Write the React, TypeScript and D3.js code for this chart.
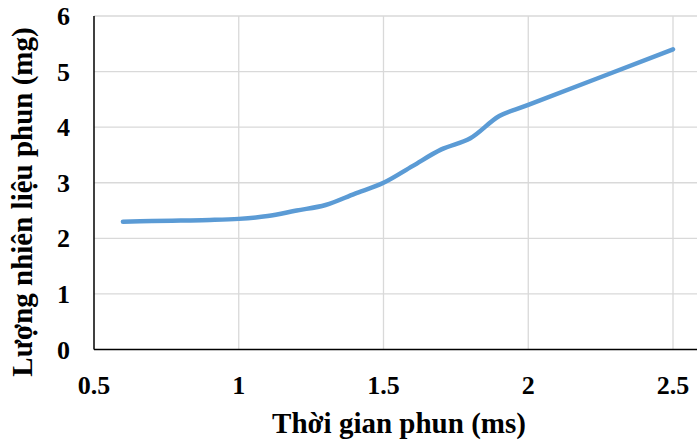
import React from "react";
import * as d3 from "d3";

const timeMs = [0.6, 0.7, 0.8, 0.9, 1.0, 1.1, 1.2, 1.3, 1.4, 1.5, 1.6, 1.7, 1.8, 1.9, 2.0, 2.5];
const fuelMg = [2.3, 2.31, 2.32, 2.33, 2.35, 2.4, 2.5, 2.6, 2.8, 3.0, 3.3, 3.6, 3.8, 4.2, 4.4, 5.4];
const xTicks = [0.5, 1, 1.5, 2, 2.5];
const yTicks = [0, 1, 2, 3, 4, 5, 6];
const xTitle = "Thời gian phun (ms)";
const yTitle = "Lượng nhiên liệu phun (mg)";

const W = 697;
const H = 441;
const left = 94;
const rightTick = 673;
const top = 16;
const bottom = 349.5;

export default function App() {
  const x = d3.scaleLinear().domain([0.5, 2.5]).range([left, rightTick]);
  const y = d3.scaleLinear().domain([0, 6]).range([bottom, top]);
  const pts = timeMs.map((t, i) => [t, fuelMg[i]] as [number, number]);
  const line = d3
    .line<[number, number]>()
    .x((d) => x(d[0]))
    .y((d) => y(d[1]))
    .curve(d3.curveCatmullRom.alpha(0.5));
  const font = "'Liberation Serif', 'Times New Roman', serif";
  return (
    <svg
      width={W}
      height={H}
      style={{ position: "absolute", left: 0, top: 0, display: "block", background: "#fff" }}
    >
      <rect x={0} y={0} width={W} height={H} fill="#fff" />
      {yTicks.map((t) =>
        t === 0 ? null : (
          <line key={"hy" + t} x1={left} x2={W} y1={y(t)} y2={y(t)} stroke="#d9d9d9" strokeWidth={1.3} />
        )
      )}
      {xTicks.map((t) =>
        t === 0.5 ? null : (
          <line key={"vx" + t} x1={x(t)} x2={x(t)} y1={top} y2={bottom} stroke="#d9d9d9" strokeWidth={1.3} />
        )
      )}
      <line x1={left} x2={left} y1={top} y2={bottom} stroke="#000" strokeWidth={1.5} />
      <line x1={left} x2={W} y1={bottom} y2={bottom} stroke="#000" strokeWidth={1.5} />
      <path
        d={line(pts) || ""}
        fill="none"
        stroke="#5b9bd5"
        strokeWidth={4.5}
        strokeLinecap="round"
        strokeLinejoin="round"
      />
      {yTicks.map((t) => (
        <text
          key={"yl" + t}
          x={70}
          y={y(t)}
          dy="0.35em"
          textAnchor="end"
          fontFamily={font}
          fontWeight="bold"
          fontSize={26}
          fill="#000"
        >
          {t}
        </text>
      ))}
      {xTicks.map((t) => (
        <text
          key={"xl" + t}
          x={x(t)}
          y={394}
          textAnchor="middle"
          fontFamily={font}
          fontWeight="bold"
          fontSize={26}
          fill="#000"
        >
          {t}
        </text>
      ))}
      <text
        x={399}
        y={433}
        textAnchor="middle"
        fontFamily={font}
        fontWeight="bold"
        fontSize={29}
        fill="#000"
      >
        {xTitle}
      </text>
      <text
        transform={`translate(32,202) rotate(-90)`}
        textAnchor="middle"
        fontFamily={font}
        fontWeight="bold"
        fontSize={29}
        fill="#000"
      >
        {yTitle}
      </text>
    </svg>
  );
}
